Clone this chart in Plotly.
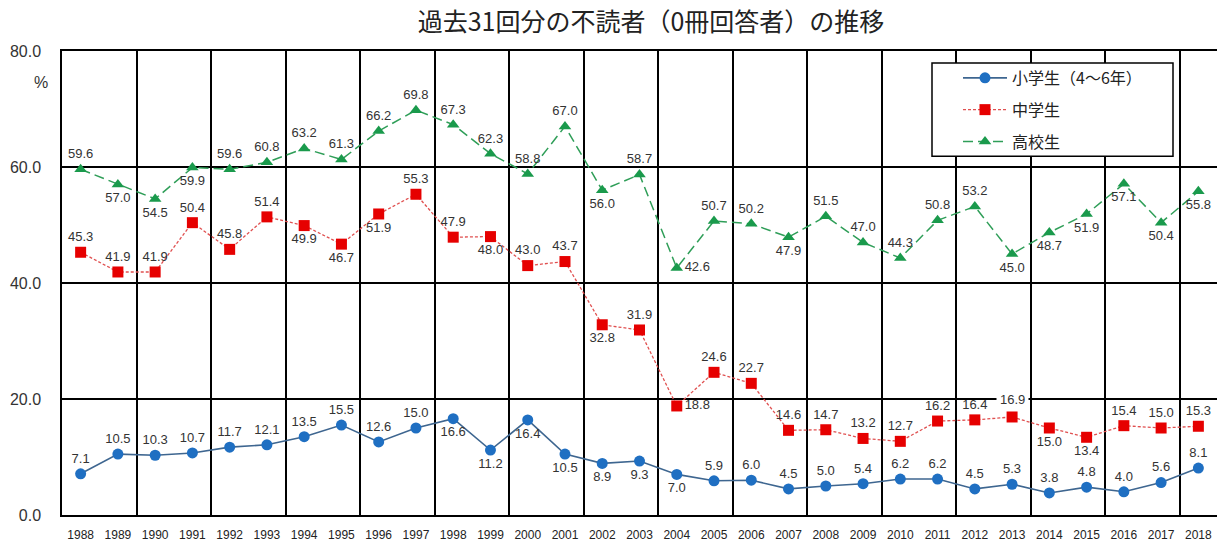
import plotly.graph_objects as go

# 調査年（1988〜2018）
years = list(range(1988, 2019))

# 不読者（0冊回答者）の割合 %
elementary = [7.1, 10.5, 10.3, 10.7, 11.7, 12.1, 13.5, 15.5, 12.6, 15.0,
              16.6, 11.2, 16.4, 10.5, 8.9, 9.3, 7.0, 5.9, 6.0, 4.5,
              5.0, 5.4, 6.2, 6.2, 4.5, 5.3, 3.8, 4.8, 4.0, 5.6, 8.1]
junior_high = [45.3, 41.9, 41.9, 50.4, 45.8, 51.4, 49.9, 46.7, 51.9, 55.3,
               47.9, 48.0, 43.0, 43.7, 32.8, 31.9, 18.8, 24.6, 22.7, 14.6,
               14.7, 13.2, 12.7, 16.2, 16.4, 16.9, 15.0, 13.4, 15.4, 15.0, 15.3]
high_school = [59.6, 57.0, 54.5, 59.9, 59.6, 60.8, 63.2, 61.3, 66.2, 69.8,
               67.3, 62.3, 58.8, 67.0, 56.0, 58.7, 42.6, 50.7, 50.2, 47.9,
               51.5, 47.0, 44.3, 50.8, 53.2, 45.0, 48.7, 51.9, 57.1, 50.4, 55.8]

series_names = ["小学生（4～6年）", "中学生", "高校生"]
y_tickvals = [0, 20, 40, 60, 80]

# 数値ラベルの置き場所
T, B, R = "top center", "bottom center", "middle right"
pos_elem = [T] * 10 + [B] * 7 + [T] * 14
pos_junior = [T, T, T, T, T, T, B, B, B, T,
              T, B, T, T, B, T, R, T, T, T,
              T, T, T, T, T, T, B, B, T, T, T]
pos_high = [T, B, B, B, T, T, T, T, T, T,
            T, T, T, T, B, T, R, T, T, B,
            T, T, T, T, T, B, B, B, B, B, B]

LABEL_FONT = dict(family="Liberation Sans, Arial, sans-serif", size=13, color="#333333")
JP_FONT = "Noto Sans CJK JP, sans-serif"

fig = go.Figure()

# 2013年の中学生ラベルは白背景付きの注釈で描く
junior_text = [f"{v:.1f}" for v in junior_high]
idx_2013 = years.index(2013)
junior_text[idx_2013] = ""

fig.add_trace(go.Scatter(
    x=years, y=elementary, name=series_names[0], legendgroup="a",
    mode="lines+markers+text",
    line=dict(color="#3e6690", width=1.6),
    marker=dict(symbol="circle", size=11, color="#1f6fc2"),
    text=[f"{v:.1f}" for v in elementary], textposition=pos_elem,
    textfont=LABEL_FONT, cliponaxis=False,
))
fig.add_trace(go.Scatter(
    x=years, y=junior_high, name=series_names[1], legendgroup="b",
    mode="lines+markers+text",
    line=dict(color="#e05050", width=1.3, dash="3px,2px"),
    marker=dict(symbol="square", size=11, color="#e60000"),
    text=junior_text, textposition=pos_junior,
    textfont=LABEL_FONT, cliponaxis=False,
))
fig.add_trace(go.Scatter(
    x=years, y=high_school, name=series_names[2], legendgroup="c",
    mode="lines+markers+text",
    line=dict(color="#2f9e58", width=1.5, dash="10px,5px"),
    marker=dict(symbol="triangle-up", size=11, color="#1a9a4c"),
    text=[f"{v:.1f}" for v in high_school], textposition=pos_high,
    textfont=LABEL_FONT, cliponaxis=False,
))

fig.add_annotation(
    x=years[idx_2013], y=junior_high[idx_2013], xref="x", yref="y",
    text=f"{junior_high[idx_2013]:.1f}", showarrow=False, yshift=17,
    font=LABEL_FONT, bgcolor="white", borderpad=3,
)

# 凡例の枠
fig.add_shape(
    type="rect", xref="paper", yref="paper", layer="above",
    x0=(932 - 62) / 1155, x1=(1173 - 62) / 1155,
    y0=(518 - 157) / 467, y1=(518 - 63) / 467,
    fillcolor="white", line=dict(color="black", width=1.5),
)

fig.add_annotation(
    text="%", xref="paper", yref="paper", x=-12 / 1155, y=(518 - 83) / 467,
    xanchor="right", yanchor="middle", showarrow=False,
    font=dict(family="Liberation Sans, Arial, sans-serif", size=16, color="#333333"),
)

fig.update_layout(
    width=1217, height=542,
    margin=dict(l=62, r=0, t=51, b=24),
    paper_bgcolor="white", plot_bgcolor="white",
    title=dict(
        text="過去31回分の不読者（0冊回答者）の推移",
        x=651 / 1217, xanchor="center", xref="container",
        y=1 - 22 / 542, yanchor="middle", yref="container",
        font=dict(family=JP_FONT, size=25, color="#222222"),
    ),
    legend=dict(
        x=(958 - 62) / 1155, y=(518 - 61) / 467, xanchor="left", yanchor="top",
        bgcolor="rgba(0,0,0,0)", borderwidth=0,
        font=dict(family=JP_FONT, size=16, color="#222222"),
        traceorder="grouped", tracegroupgap=8, itemwidth=44,
    ),
    xaxis=dict(
        range=[1987.5, 2018.5], tickvals=years, ticktext=[str(y) for y in years],
        showgrid=False, zeroline=False,
        showline=True, mirror=True, linecolor="black", linewidth=1.5,
        ticks="outside", ticklen=8, tickcolor="rgba(0,0,0,0)",
        tickfont=dict(family="Liberation Sans, Arial, sans-serif", size=12, color="#222222"),
        minor=dict(tick0=1987.5, dtick=2, showgrid=True, gridcolor="black", gridwidth=1.5),
    ),
    yaxis=dict(
        range=[0, 80], tickvals=y_tickvals, ticktext=[f"{v:.1f}" for v in y_tickvals],
        showgrid=True, gridcolor="black", gridwidth=1.5, zeroline=False,
        showline=True, linecolor="black", linewidth=1.5,
        ticks="outside", ticklen=16, tickcolor="rgba(0,0,0,0)",
        tickfont=dict(family="Liberation Sans, Arial, sans-serif", size=16, color="#333333"),
    ),
    showlegend=True,
)

fig.write_html("out.html")
